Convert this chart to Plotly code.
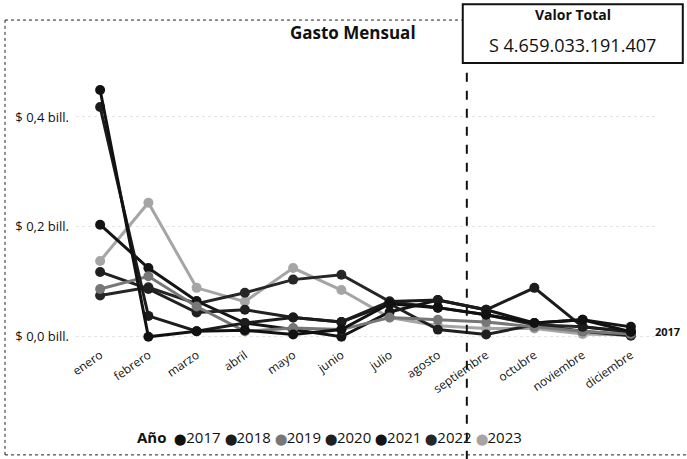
import plotly.graph_objects as go

# Meses (eje X)
meses = ['enero', 'febrero', 'marzo', 'abril', 'mayo', 'junio', 'julio',
         'agosto', 'septiembre', 'octubre', 'noviembre', 'diciembre']

# Gasto mensual por año, en billones
gasto_2017 = [0.449, 0.000, 0.010, 0.012, 0.004, 0.013, 0.060, 0.053, 0.040, 0.025, 0.031, 0.009]
gasto_2018 = [0.418, 0.038, 0.010, 0.025, 0.035, 0.027, 0.064, 0.067, 0.049, 0.089, 0.018, 0.009]
gasto_2019 = [0.087, 0.110, 0.055, 0.010, 0.016, 0.013, 0.035, 0.031, 0.027, 0.018, 0.010, 0.005]
gasto_2020 = [0.118, 0.087, 0.044, 0.049, 0.035, 0.027, 0.060, 0.013, 0.004, 0.022, 0.010, 0.002]
gasto_2021 = [0.204, 0.125, 0.065, 0.025, 0.013, 0.000, 0.045, 0.067, 0.049, 0.025, 0.031, 0.018]
gasto_2022 = [0.075, 0.090, 0.060, 0.080, 0.104, 0.113, 0.064, 0.053, 0.040, 0.022, 0.018, 0.009]
gasto_2023 = [0.138, 0.244, 0.089, 0.064, 0.125, 0.085, 0.035, 0.020, 0.015, 0.015, 0.005, 0.003]

anios = ['2017', '2018', '2019', '2020', '2021', '2022', '2023']
series = [gasto_2017, gasto_2018, gasto_2019, gasto_2020, gasto_2021, gasto_2022, gasto_2023]
colores = ['#111111', '#1c1c1c', '#777777', '#202020', '#141414', '#262626', '#a5a5a5']

y_ticks = [0.0, 0.2, 0.4]
y_ticktext = ['$ 0,0 bill.', '$ 0,2 bill.', '$ 0,4 bill.']

valor_total = 'S 4.659.033.191.407'

FONT = 'Open Sans'

fig = go.Figure()

# lineas (en orden inverso para que 2017 quede encima)
for anio, valores, color in reversed(list(zip(anios, series, colores))):
    fig.add_trace(go.Scatter(
        x=meses, y=valores, name=anio,
        mode='lines+markers',
        line=dict(color=color, width=3),
        marker=dict(color=color, size=10),
        showlegend=False
    ))

fig.update_layout(
    width=687, height=459,
    margin=dict(l=76, r=32, t=84, b=114),
    paper_bgcolor='white', plot_bgcolor='white',
    font=dict(family=FONT, color='#111111', size=12),
    title=dict(text='<b>Gasto Mensual</b>', x=0.478, xref='paper', xanchor='center',
               y=0.928, yanchor='middle',
               font=dict(family=FONT, size=17, color='#111111')),
    showlegend=False
)

fig.update_xaxes(
    type='category', range=[-0.5, 11.5], tickangle=-35, automargin=False,
    showgrid=False, showline=False, zeroline=False, ticks='',
    tickfont=dict(size=12, color='#111111')
)
fig.update_yaxes(
    range=[-0.015, 0.46], tickvals=y_ticks, ticktext=y_ticktext, automargin=False,
    showgrid=True, gridcolor='#e4e4e4', griddash='dot', gridwidth=1,
    zeroline=False, showline=False, ticks='', ticklabelstandoff=6,
    tickfont=dict(size=13, color='#111111')
)

# leyenda compacta como texto con circulos de color
partes = ['<b>Año</b>&nbsp;']
for anio, color in zip(anios, colores):
    partes.append(f'&nbsp;<span style="color:{color};font-size:11px">⬤</span>{anio}')
fig.add_annotation(xref='paper', yref='paper', x=0.437, y=-0.352,
                   text=''.join(partes), showarrow=False,
                   xanchor='center', yanchor='middle',
                   font=dict(family=FONT, size=15, color='#111111'))

# etiqueta de serie al final
fig.add_annotation(x='diciembre', y=gasto_2017[-1], text='<b>2017</b>',
                   showarrow=False, xanchor='left', yanchor='middle', xshift=22,
                   font=dict(size=11, color='#111111'))

# marco del visual
fig.add_shape(type='line', xref='paper', yref='paper', x0=-0.1226, x1=0.666,
              y0=1.245, y1=1.245, line=dict(color='#222222', width=1, dash='dot'))
fig.add_shape(type='line', xref='paper', yref='paper', x0=-0.1226, x1=-0.1226,
              y0=-0.421, y1=1.245, line=dict(color='#222222', width=1, dash='dot'))
fig.add_shape(type='line', xref='paper', yref='paper', x0=-0.1226, x1=1.06,
              y0=-0.421, y1=-0.421, line=dict(color='#222222', width=1, dash='dot'))

# linea punteada vertical
fig.add_shape(type='line', xref='paper', yref='paper', x0=0.675, x1=0.675,
              y0=-0.44, y1=1.073, line=dict(color='#111111', width=2, dash='dash'))

# tarjeta Valor Total
fig.add_shape(type='rect', xref='paper', yref='paper', x0=0.668, x1=1.048,
              y0=1.08, y1=1.306, line=dict(color='#111111', width=2),
              fillcolor='white')
fig.add_annotation(xref='paper', yref='paper', x=0.858, y=1.268,
                   text='<b>Valor Total</b>', showarrow=False,
                   xanchor='center', yanchor='middle',
                   font=dict(family=FONT, size=14, color='#111111'))
fig.add_annotation(xref='paper', yref='paper', x=0.858, y=1.149,
                   text=valor_total, showarrow=False,
                   xanchor='center', yanchor='middle',
                   font=dict(family=FONT, size=18, color='#111111'))

fig.write_html('out.html', config={'displayModeBar': False},
               post_script="document.body.style.margin='0';")
